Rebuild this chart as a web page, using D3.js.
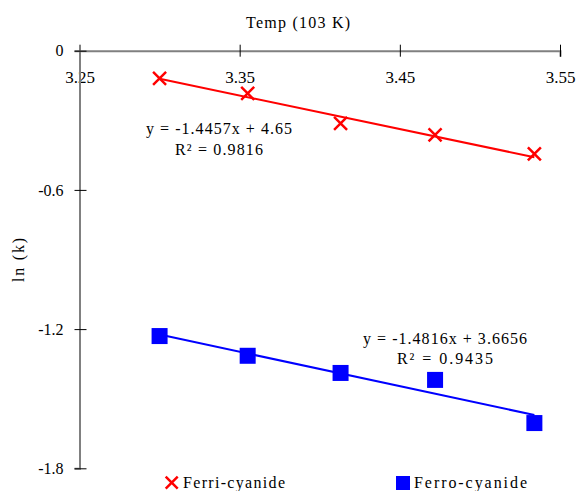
<!DOCTYPE html>
<html>
<head>
<meta charset="utf-8">
<script src="https://cdn.jsdelivr.net/npm/d3@7"></script>
<style>
  body { margin: 0; background: #fff; }
</style>
</head>
<body>
<div id="chart"></div>
<script>
// 1000/T values and ln(k) for the two complexes
const temps = [3.300, 3.355, 3.413, 3.472, 3.534];
const ferri = [-0.119, -0.184, -0.313, -0.363, -0.445];
const ferro = [-1.230, -1.315, -1.389, -1.419, -1.605];

// trendline fits shown on the chart
const ferriFit = { slope: -1.4457, intercept: 4.65, eq: "y = -1.4457x + 4.65", r2: "R\u00B2 = 0.9816" };
const ferroFit = { slope: -1.4816, intercept: 3.6656, eq: "y = -1.4816x + 3.6656", r2: "R\u00B2 = 0.9435" };

const xTicks = [3.25, 3.35, 3.45, 3.55];
const yTicks = [0, -0.6, -1.2, -1.8];
const yTickLabels = ["0", "-0.6", "-1.2", "-1.8"];

const width = 578, height = 491;
const FONT = "Liberation Serif";

const x = d3.scaleLinear().domain([3.25, 3.55]).range([79.5, 560]);
const y = d3.scaleLinear().domain([-1.8, 0]).range([468.3, 50.7]);

const svg = d3.select("#chart").append("svg")
    .attr("width", width)
    .attr("height", height)
    .attr("viewBox", [0, 0, width, height])
    .attr("font-family", FONT);

// x axis sits on y = 0, labels below it
const gx = svg.append("g")
    .attr("transform", `translate(0,${y(0)})`)
    .call(d3.axisBottom(x).tickValues(xTicks).tickFormat(d3.format(".2f")).tickSizeOuter(0).tickSize(6).tickPadding(11));
gx.attr("font-family", FONT).attr("font-size", 17);
gx.select(".domain").attr("stroke", "#808080").attr("stroke-width", 2);
gx.selectAll(".tick line").attr("y1", -6).attr("y2", 6).attr("stroke", "#000");
gx.selectAll(".tick text").attr("dy", "0.9em").attr("fill", "#000");

// y axis at x = 3.25
const gy = svg.append("g")
    .attr("transform", `translate(${x(3.25)},0)`)
    .call(d3.axisLeft(y).tickValues(yTicks).tickFormat((d, i) => yTickLabels[i]).tickSizeOuter(0).tickSize(5).tickPadding(12));
gy.attr("font-family", FONT).attr("font-size", 16);
gy.select(".domain").attr("stroke", "#808080").attr("stroke-width", 2);
gy.selectAll(".tick line").attr("x1", -5).attr("x2", 7).attr("stroke", "#000");
gy.selectAll(".tick text").attr("x", -16).attr("fill", "#000");

// axis titles
svg.append("text")
    .attr("x", 298).attr("y", 28)
    .attr("text-anchor", "middle")
    .attr("font-size", 16)
    .attr("textLength", 104).attr("lengthAdjust", "spacing")
    .text("Temp (103 K)");

svg.append("text")
    .attr("transform", `translate(24,260) rotate(-90)`)
    .attr("text-anchor", "middle")
    .attr("font-size", 16)
    .attr("textLength", 44).attr("lengthAdjust", "spacing")
    .text("ln (k)");

// trendlines
const x0 = d3.min(temps), x1 = d3.max(temps);
[[ferriFit, "#ff0000"], [ferroFit, "#0000ff"]].forEach(([f, c]) => {
  svg.append("line")
      .attr("x1", x(x0)).attr("y1", y(f.slope * x0 + f.intercept))
      .attr("x2", x(x1)).attr("y2", y(f.slope * x1 + f.intercept))
      .attr("stroke", c).attr("stroke-width", 2);
});

// cross markers
const cross = (g, cx, cy, s) => {
  g.append("path")
      .attr("d", `M${cx - s},${cy - s}L${cx + s},${cy + s}M${cx - s},${cy + s}L${cx + s},${cy - s}`)
      .attr("stroke", "#ff0000").attr("stroke-width", 2.5).attr("fill", "none");
};
const gFerri = svg.append("g");
temps.forEach((t, i) => cross(gFerri, x(t), y(ferri[i]), 6.5));

svg.append("g").selectAll("rect")
  .data(temps.map((t, i) => [t, ferro[i]]))
  .join("rect")
    .attr("x", d => x(d[0]) - 8)
    .attr("y", d => y(d[1]) - 8)
    .attr("width", 16).attr("height", 16)
    .attr("fill", "#0000ff");

// equation labels
const eqLabel = (f, cx, y1, y2, w1, w2) => {
  svg.append("text").attr("x", cx).attr("y", y1).attr("text-anchor", "middle")
      .attr("font-size", 16).attr("textLength", w1).attr("lengthAdjust", "spacing").text(f.eq);
  svg.append("text").attr("x", cx).attr("y", y2).attr("text-anchor", "middle")
      .attr("font-size", 16).attr("textLength", w2).attr("lengthAdjust", "spacing").text(f.r2);
};
eqLabel(ferriFit, 219, 134, 155, 146, 88);
eqLabel(ferroFit, 445, 344, 364, 164, 96);

// legend
const lg = svg.append("g");
cross(lg, 171.7, 482.7, 6);
lg.append("text").attr("x", 183).attr("y", 488).attr("font-size", 16)
    .attr("textLength", 102).attr("lengthAdjust", "spacing").text("Ferri-cyanide");
lg.append("rect").attr("x", 396).attr("y", 476).attr("width", 14).attr("height", 14).attr("fill", "#0000ff");
lg.append("text").attr("x", 414).attr("y", 488).attr("font-size", 16)
    .attr("textLength", 113).attr("lengthAdjust", "spacing").text("Ferro-cyanide");
</script>
</body>
</html>
